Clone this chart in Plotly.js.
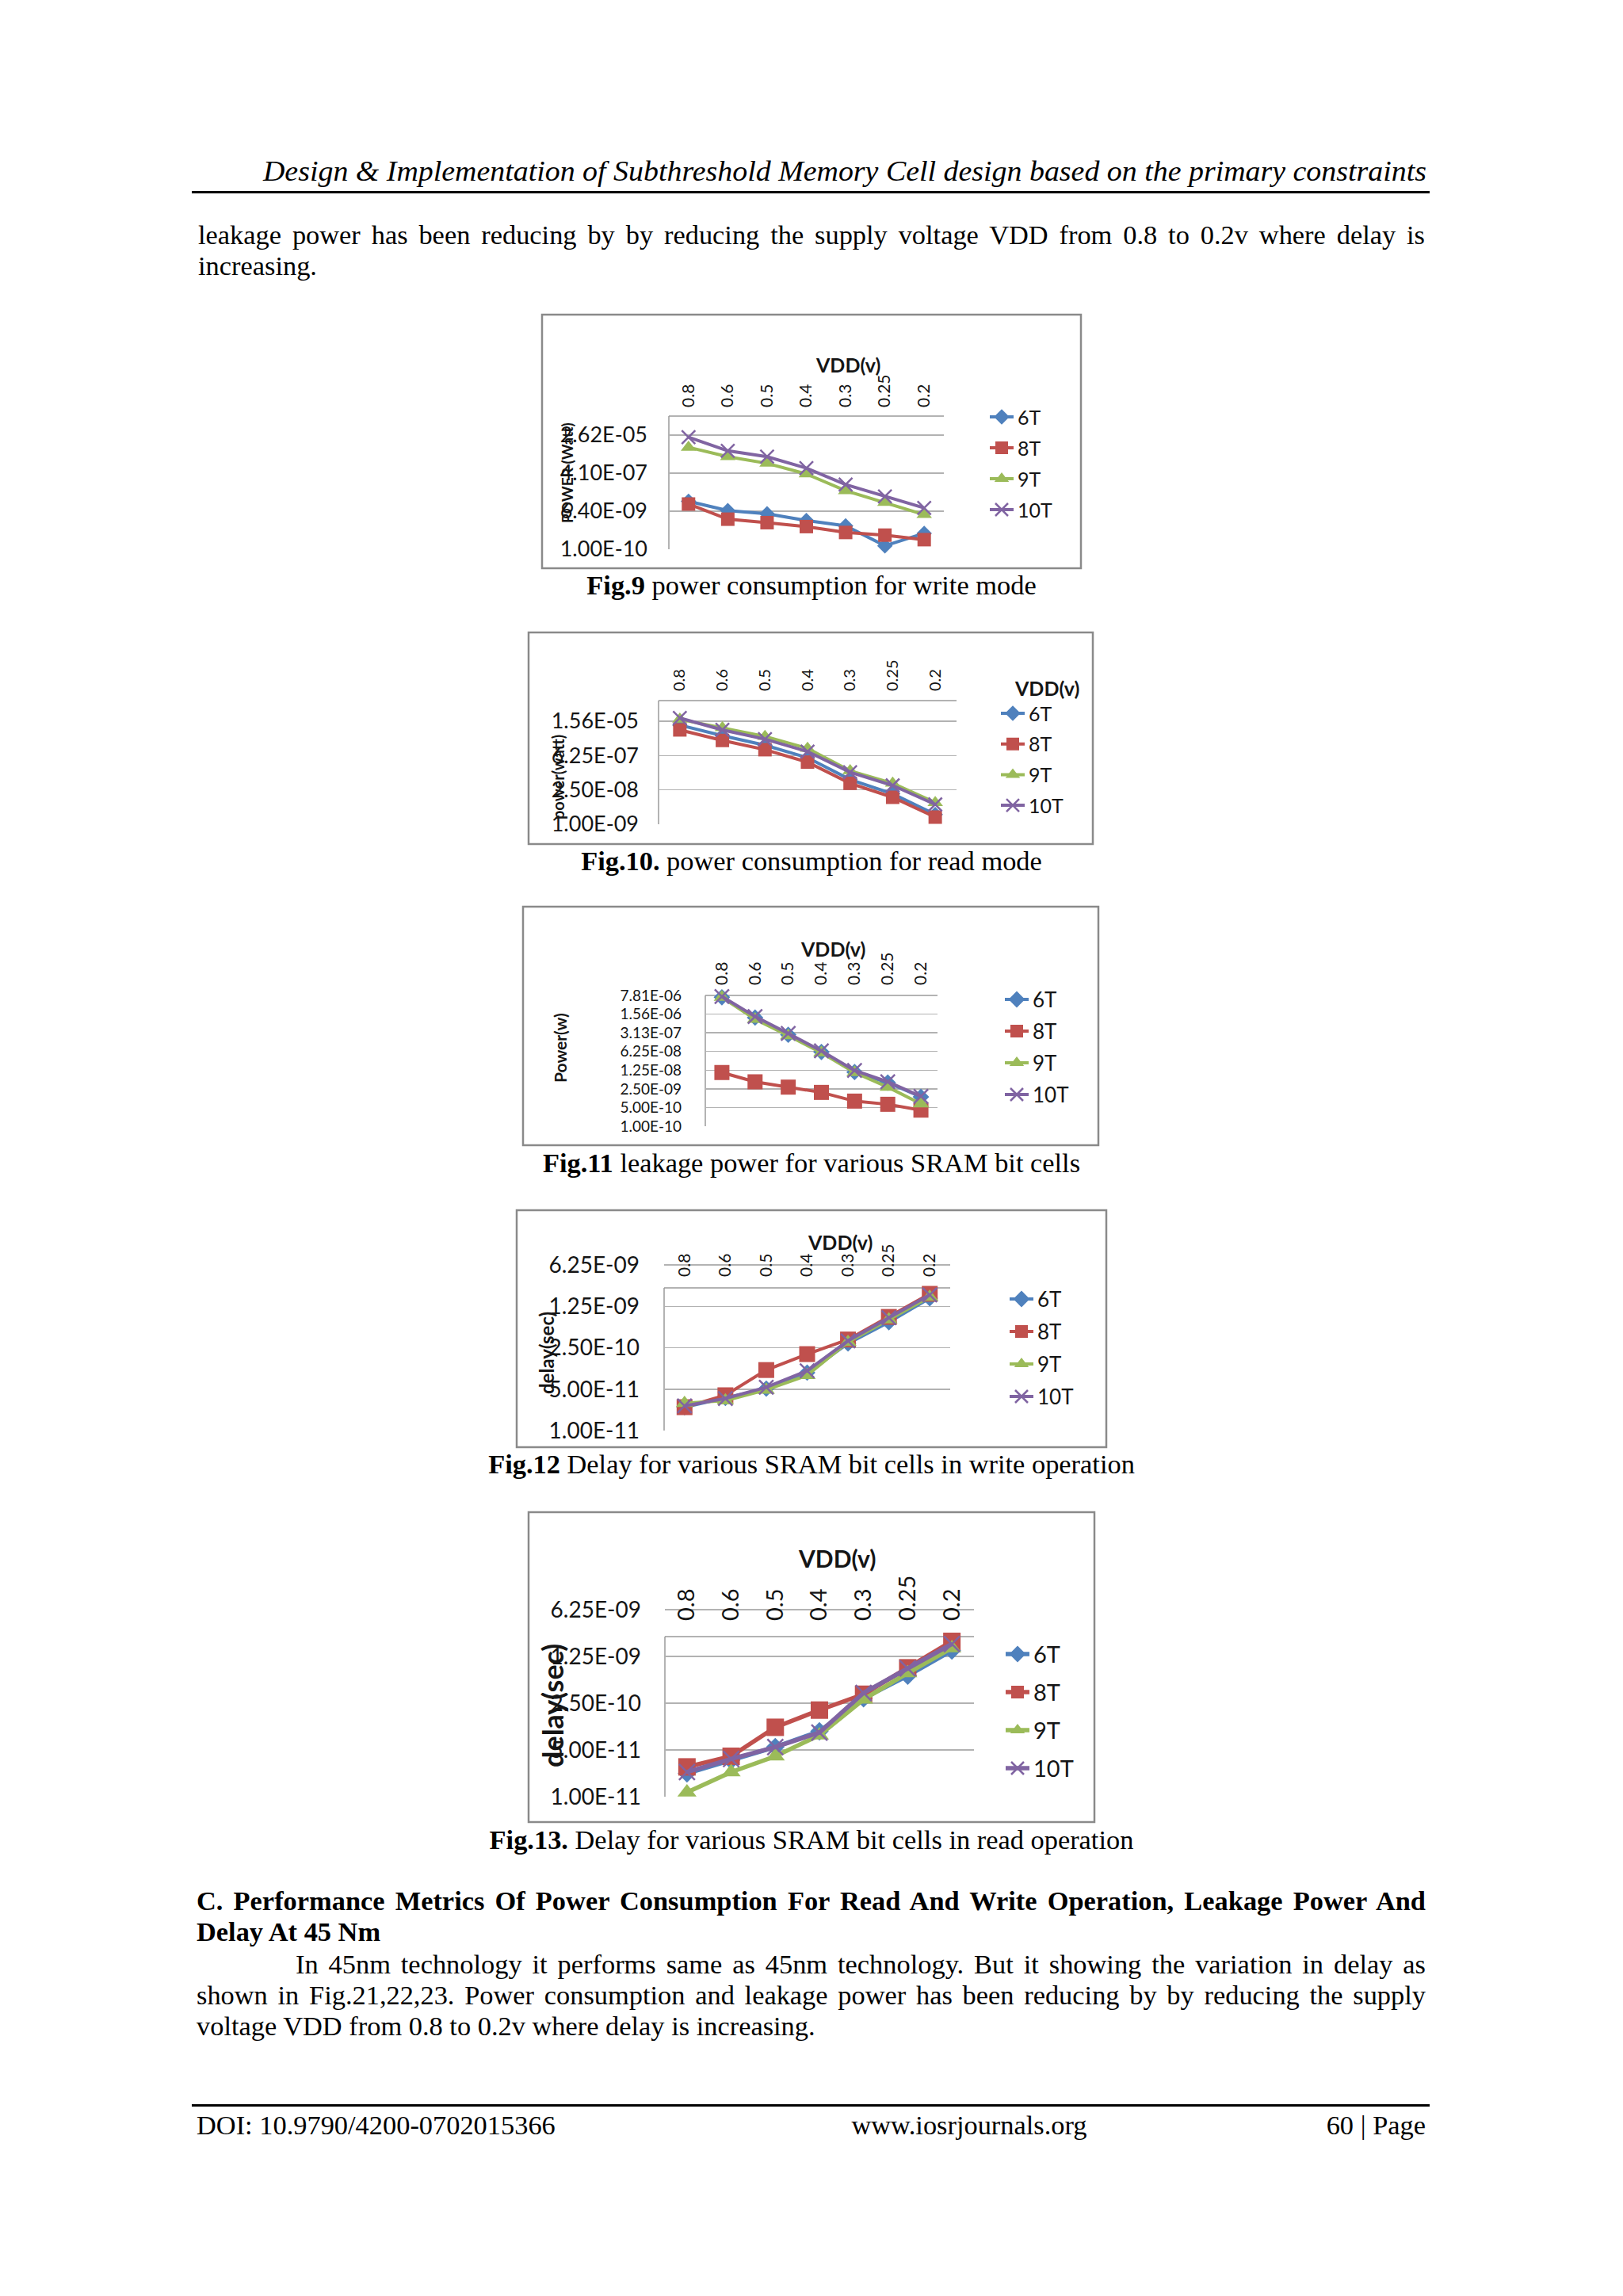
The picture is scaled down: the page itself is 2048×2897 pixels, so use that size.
<!DOCTYPE html>
<html><head><meta charset="utf-8">
<script src="https://cdn.plot.ly/plotly-3.0.1.min.js"></script>
<style>
html,body{margin:0;padding:0;background:#fff;}
#page{position:relative;width:2048px;height:2897px;overflow:hidden;background:#fff;}
#plot{position:absolute;left:0;top:0;width:2048px;height:2897px;}
.tl{position:absolute;white-space:nowrap;font-family:'Liberation Serif','Times New Roman',serif;font-size:34.4px;line-height:38.08px;color:#000;transform-origin:0 0;}
.rule{position:absolute;background:#000;}
</style></head><body>
<div id="page"><div id="plot"></div></div>
<script>
// ---------------- DATA ----------------
const cats = ['0.8','0.6','0.5','0.4','0.3','0.25','0.2'];
const seriesNames = ['6T','8T','9T','10T'];

// Fig.9 power consumption for write mode (W)
const fig9_6T  = [1.9e-8, 6.8e-9, 4.8e-9, 2.3e-9, 1.3e-9, 1.46e-10, 5.7e-10];
const fig9_8T  = [1.4e-8, 2.67e-9, 1.83e-9, 1.19e-9, 6.25e-10, 4.67e-10, 2.85e-10];
const fig9_9T  = [6.9e-6, 2.48e-6, 1.2e-6, 3.75e-7, 6.0e-8, 1.67e-8, 4.4e-9];
const fig9_10T = [2.07e-5, 4.7e-6, 2.48e-6, 7.1e-7, 1.17e-7, 3.2e-8, 9.1e-9];
const fig9_tickVals = [1e-10, 6.4e-9, 4.096e-7, 2.62144e-5];
const fig9_tickText = ['1.00E-10','6.40E-09','4.10E-07','2.62E-05'];

// Fig.10 power consumption for read mode (W)
const fig10_6T  = [1.08e-5, 4.0e-6, 1.64e-6, 5.1e-7, 6.56e-8, 1.73e-8, 2.5e-9];
const fig10_8T  = [6.9e-6, 2.57e-6, 1.08e-6, 3.37e-7, 4.64e-8, 1.25e-8, 1.95e-9];
const fig10_9T  = [1.86e-5, 8.4e-6, 3.72e-6, 1.22e-6, 1.49e-7, 4.64e-8, 7.6e-9];
const fig10_10T = [2.1e-5, 6.9e-6, 2.9e-6, 9.06e-7, 1.31e-7, 3.8e-8, 6.4e-9];
const fig10_tickVals = [1e-9, 2.5e-8, 6.25e-7, 1.5625e-5];
const fig10_tickText = ['1.00E-09','2.50E-08','6.25E-07','1.56E-05'];

// Fig.11 leakage power (W)
const fig11_6T  = [6.67e-6, 1.16e-6, 2.64e-7, 6.0e-8, 1.06e-8, 4.28e-9, 1.25e-9];
const fig11_8T  = [1.02e-8, 4.58e-9, 2.9e-9, 1.84e-9, 8.7e-10, 6.6e-10, 4.0e-10];
const fig11_9T  = [6.67e-6, 1.01e-6, 2.46e-7, 5.6e-8, 1.02e-8, 2.9e-9, 6.9e-10];
const fig11_10T = [7.15e-6, 1.27e-6, 2.95e-7, 6.58e-8, 1.22e-8, 4.58e-9, 1.31e-9];
const fig11_tickVals = [1e-10, 5e-10, 2.5e-9, 1.25e-8, 6.25e-8, 3.125e-7, 1.5625e-6, 7.8125e-6];
const fig11_tickText = ['1.00E-10','5.00E-10','2.50E-09','1.25E-08','6.25E-08','3.13E-07','1.56E-06','7.81E-06'];

// Fig.12 delay, write operation (s)
const fig12_6T  = [2.48e-11, 3.56e-11, 5.1e-11, 9.5e-11, 2.95e-10, 6.73e-10, 1.71e-9];
const fig12_8T  = [2.48e-11, 3.94e-11, 1.05e-10, 1.95e-10, 3.44e-10, 8.28e-10, 2.03e-9];
const fig12_9T  = [2.9e-11, 3.2e-11, 4.86e-11, 8.55e-11, 3.1e-10, 7.46e-10, 1.8e-9];
const fig12_10T = [2.61e-11, 3.48e-11, 5.37e-11, 1.02e-10, 3.27e-10, 8.0e-10, 1.95e-9];

// Fig.13 delay, read operation (s)
const fig13_6T  = [2.23e-11, 3.51e-11, 5.52e-11, 9.5e-11, 2.97e-10, 6.44e-10, 1.53e-9];
const fig13_8T  = [2.79e-11, 4.02e-11, 1.09e-10, 1.97e-10, 3.4e-10, 8.45e-10, 2.1e-9];
const fig13_9T  = [1.16e-11, 2.33e-11, 4.02e-11, 8.3e-11, 2.84e-10, 7.05e-10, 1.67e-9];
const fig13_10T = [2.33e-11, 3.67e-11, 5.52e-11, 9.1e-11, 3.56e-10, 8.3e-10, 1.92e-9];
const delay_tickVals = [1e-11, 5e-11, 2.5e-10, 1.25e-9, 6.25e-9];
const delay_tickText = ['1.00E-11','5.00E-11','2.50E-10','1.25E-09','6.25E-09'];

// ---------------- STYLE / LAYOUT ----------------
const W = 2048, H = 2897;
const px = x => x / W;
const py = y => 1 - y / H;
const COL = {'6T':'#4F81BD','8T':'#C0504D','9T':'#9BBB59','10T':'#8064A2'};
const SYM = {'6T':'diamond','8T':'square','9T':'triangle-up','10T':'x-thin'};
const FONT = 'Lato, "Open Sans", sans-serif';
const TXT = '#151515';
const EPS = 1e-6;

const charts = [
  {data:[fig9_6T,fig9_8T,fig9_9T,fig9_10T], tv:fig9_tickVals, tt:fig9_tickText,
   range:[-10, Math.log10(2.097e-4)], frame:[684,397,1364,717], pl:844, pr:1191, yTop:525, yBot:693, boxTop:525,
   xlab:512, vdd:[1070,460,25], yt:['POWER (Watt)',715,597,19], leg:[1288,521,39,25], tf:27, xf:21, so:26,
   lw:4, ms:{'6T':15,'8T':17,'9T':17,'10T':17}},
  {data:[fig10_6T,fig10_8T,fig10_9T,fig10_10T], tv:fig10_tickVals, tt:fig10_tickText,
   range:[-9, -3.97], frame:[667,798,1379,1065], pl:831, pr:1207, yTop:884, yBot:1040, boxTop:884,
   xlab:870, vdd:[1321,868,25], yt:['power(watt)',704,981,20], leg:[1302,895,38.7,25], tf:27, xf:20, so:24,
   lw:4, ms:{'6T':15,'8T':17,'9T':17,'10T':17}},
  {data:[fig11_6T,fig11_8T,fig11_9T,fig11_10T], tv:fig11_tickVals, tt:fig11_tickText,
   range:[-10, Math.log10(7.8125e-6)+EPS], frame:[660,1144,1386,1445], pl:890, pr:1183, yTop:1256, yBot:1421, boxTop:1256,
   xlab:1241, vdd:[1051,1197,25], yt:['Power(w)',706,1322,21], leg:[1307,1256,40,26], tf:19, xf:21, so:29,
   lw:4, ms:{'6T':16,'8T':19,'9T':18,'10T':18}},
  {data:[fig12_6T,fig12_8T,fig12_9T,fig12_10T], tv:delay_tickVals, tt:delay_tickText,
   range:[-11-EPS, Math.log10(6.25e-9)+EPS], frame:[652,1527,1396,1826], pl:838, pr:1199, yTop:1596, yBot:1805, boxTop:1625,
   xlab:1609, vdd:[1060,1567,25], yt:['delay(sec)',689,1707,24], leg:[1313,1634,41,26], tf:28, xf:21, so:30,
   lw:4, ms:{'6T':16,'8T':20,'9T':19,'10T':18}},
  {data:[fig13_6T,fig13_8T,fig13_9T,fig13_10T], tv:delay_tickVals, tt:delay_tickText,
   range:[-11-EPS, Math.log10(6.25e-9)+EPS], frame:[667,1908,1381,2299], pl:839, pr:1229, yTop:2031, yBot:2267, boxTop:2065,
   xlab:2043, vdd:[1056,1966,30], yt:['delay(sec)',697,2152,36], leg:[1308,2082,48,29], tf:28, xf:29, so:29,
   lw:5.5, ms:{'6T':18,'8T':22,'9T':21,'10T':20}}
];

const traces = [];
const layout = {
  width: W, height: H, margin:{l:0,r:0,t:0,b:0}, paper_bgcolor:'rgba(0,0,0,0)', plot_bgcolor:'rgba(0,0,0,0)',
  showlegend:true, shapes:[], annotations:[], font:{family:FONT, color:TXT}
};
const AXC = '#9a9a9a', GRC = '#b2b2b2';

charts.forEach((c, k) => {
  const i = k + 1;
  const xa = i === 1 ? 'x' : 'x' + i, ya = i === 1 ? 'y' : 'y' + i;
  const xk = i === 1 ? 'xaxis' : 'xaxis' + i, yk = i === 1 ? 'yaxis' : 'yaxis' + i;
  const lk = i === 1 ? 'legend' : 'legend' + i;
  seriesNames.forEach((s, j) => {
    const mk = {symbol:SYM[s], size:c.ms[s], color:COL[s]};
    if (s === '10T') mk.line = {color:COL[s], width:2.5};
    traces.push({type:'scatter', mode:'lines+markers', x:cats, y:c.data[j], name:s,
      xaxis:xa, yaxis:ya, legend:lk, legendgroup:'g'+i+s, cliponaxis:false,
      line:{color:COL[s], width:c.lw}, marker:mk, hoverinfo:'skip'});
  });
  layout[xk] = {type:'category', categoryorder:'array', categoryarray:cats, range:[-0.5, 6.5],
    domain:[px(c.pl), px(c.pr)], anchor:'free', position:py(c.xlab + 2), side:'top',
    tickangle:-90, showgrid:false, showline:false, zeroline:false, ticks:'',
    tickfont:{family:FONT, size:c.xf, color:TXT}, fixedrange:true};
  layout[yk] = {type:'log', range:c.range, domain:[py(c.yBot), py(c.yTop)], anchor:xa, side:'left',
    tickmode:'array', tickvals:c.tv, ticktext:c.tt, showgrid:true, gridcolor:GRC, gridwidth:1.5,
    showline:false, zeroline:false, ticks:'', ticklabelstandoff:c.so,
    tickfont:{family:FONT, size:c.tf, color:TXT}, fixedrange:true};
  const itemH = c.leg[3] * 1.3 + 5;
  layout[lk] = {x:px(c.leg[0] - 44), y:py(c.leg[1] - itemH/2 + 1), xanchor:'left', yanchor:'top',
    bgcolor:'rgba(0,0,0,0)', borderwidth:0, font:{family:FONT, size:c.leg[3], color:TXT},
    traceorder:'grouped', tracegroupgap:Math.max(0, c.leg[2] - itemH + 2)};
  const f = c.frame;
  layout.shapes.push({type:'rect', xref:'paper', yref:'paper', x0:px(f[0]), x1:px(f[2]), y0:py(f[1]), y1:py(f[3]),
    line:{color:'#8a8a8a', width:2.5}, fillcolor:'rgba(0,0,0,0)', layer:'below'});
  layout.shapes.push({type:'line', xref:'paper', yref:'paper', x0:px(c.pl), x1:px(c.pr), y0:py(c.yTop), y1:py(c.yTop),
    line:{color:AXC, width:1.5}, layer:'below'});
  if (c.boxTop !== c.yTop) layout.shapes.push({type:'line', xref:'paper', yref:'paper', x0:px(c.pl), x1:px(c.pr),
    y0:py(c.boxTop), y1:py(c.boxTop), line:{color:AXC, width:1.5}, layer:'below'});
  layout.shapes.push({type:'line', xref:'paper', yref:'paper', x0:px(c.pl), x1:px(c.pl), y0:py(c.boxTop), y1:py(c.yBot),
    line:{color:AXC, width:1.5}, layer:'below'});
  layout.annotations.push({xref:'paper', yref:'paper', x:px(c.vdd[0]), y:py(c.vdd[1]), text:'<b>VDD(v)</b>',
    showarrow:false, xanchor:'center', yanchor:'middle', font:{family:FONT, size:c.vdd[2], color:TXT}});
  layout.annotations.push({xref:'paper', yref:'paper', x:px(c.yt[1]), y:py(c.yt[2]), text:'<b>'+c.yt[0]+'</b>',
    textangle:-90, showarrow:false, xanchor:'center', yanchor:'middle', font:{family:FONT, size:c.yt[3], color:TXT}});
});

Plotly.newPlot('plot', traces, layout, {staticPlot:true, displayModeBar:false});

// ---------------- PAGE TEXT ----------------
const textLines = [
  {h:'<i>Design &amp; Implementation of Subthreshold Memory Cell design based on the primary constraints</i>', x0:332, x1:1800, base:229, fit:true, fs:36.5},
  {h:'leakage power has been reducing by by reducing the supply voltage VDD from 0.8 to 0.2v where delay is', x0:250, x1:1798, base:308, just:true},
  {h:'increasing.', x0:250, base:347},
  {h:'<b>Fig.9</b> power consumption for write mode', cx:1024, base:750},
  {h:'<b>Fig.10.</b> power consumption for read mode', cx:1024, base:1098},
  {h:'<b>Fig.11</b> leakage power for various SRAM bit cells', cx:1024, base:1479},
  {h:'<b>Fig.12</b> Delay for various SRAM bit cells in write operation', cx:1024, base:1859},
  {h:'<b>Fig.13.</b> Delay for various SRAM bit cells in read operation', cx:1024, base:2333},
  {h:'<b>C. Performance Metrics Of Power Consumption For Read And Write Operation, Leakage Power And</b>', x0:248, x1:1799, base:2410, just:true},
  {h:'<b>Delay At 45 Nm</b>', x0:248, base:2449},
  {h:'In 45nm technology it performs same as 45nm technology. But it showing the variation in delay as', x0:373, x1:1799, base:2490, just:true},
  {h:'shown in Fig.21,22,23. Power consumption and leakage power has been reducing by by reducing the supply', x0:248, x1:1799, base:2529, just:true},
  {h:'voltage VDD from 0.8 to 0.2v where delay is increasing.', x0:248, base:2568},
  {h:'DOI: 10.9790/4200-0702015366', x0:248, base:2693},
  {h:'www.iosrjournals.org', cx:1223, base:2693},
  {h:'60 | Page', x1:1799, base:2693}
];
function placeText(){
  const page = document.getElementById('page');
  textLines.forEach(L => {
    const fs = L.fs || 34.4, asc = 0.891 * fs;
    const d = document.createElement('div');
    d.className = 'tl';
    d.style.fontSize = fs + 'px';
    d.style.lineHeight = (1.107 * fs) + 'px';
    d.innerHTML = L.h;
    page.appendChild(d);
    const w = d.getBoundingClientRect().width;
    d.style.top = (L.base - asc) + 'px';
    let left;
    if (L.fit) {
      d.style.transform = 'scaleX(' + ((L.x1 - L.x0) / w) + ')';
      left = L.x0;
    } else if (L.just) {
      const n = (d.textContent.match(/ /g) || []).length;
      d.style.wordSpacing = ((L.x1 - L.x0 - w) / n) + 'px';
      left = L.x0;
    } else if (L.cx !== undefined) left = L.cx - w / 2;
    else if (L.x0 !== undefined) left = L.x0;
    else left = L.x1 - w;
    d.style.left = left + 'px';
  });
  [[241, 242, 1562, 3], [2655, 242, 1562, 3]].forEach(r => {
    const d = document.createElement('div');
    d.className = 'rule';
    d.style.top = r[0] + 'px'; d.style.left = r[1] + 'px'; d.style.width = r[2] + 'px'; d.style.height = r[3] + 'px';
    page.appendChild(d);
  });
}
if (document.fonts && document.fonts.ready) document.fonts.ready.then(placeText); else placeText();
</script>
</body></html>
